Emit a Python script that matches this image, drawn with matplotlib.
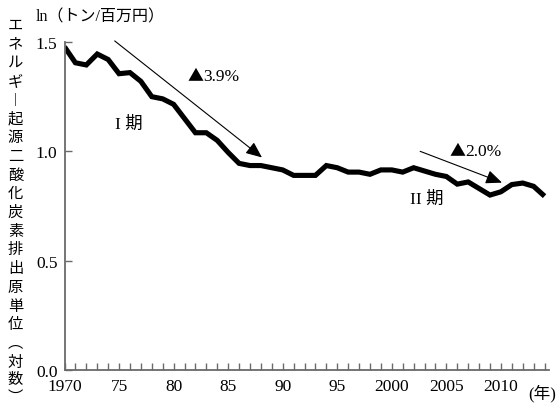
import matplotlib
matplotlib.use("Agg")
import matplotlib.pyplot as plt
import numpy as np

years = list(range(1970, 2015))
values = [1.478, 1.405, 1.395, 1.445, 1.42, 1.355, 1.36, 1.32, 1.25, 1.24,
          1.215, 1.15, 1.085, 1.085, 1.05, 0.995, 0.945, 0.935, 0.935, 0.925,
          0.915, 0.89, 0.89, 0.89, 0.935, 0.925, 0.905, 0.905, 0.895, 0.915,
          0.915, 0.905, 0.925, 0.91, 0.895, 0.885, 0.85, 0.86, 0.83, 0.80,
          0.815, 0.848, 0.855, 0.84, 0.795]
xtick_pos = [1970, 1975, 1980, 1985, 1990, 1995, 2000, 2005, 2010]
xtick_labels = ["1970", "75", "80", "85", "90", "95", "2000", "2005", "2010"]
ytick_pos = [0.0, 0.5, 1.0, 1.5]
ytick_labels = ["0.0", "0.5", "1.0", "1.5"]
ylabel_chars = list("エネルギ") + ["︱"] + list("起源二酸化炭素排出原単位") + ["︵", "対", "数", "︶"]

SERIF = ["Liberation Serif", "Noto Sans CJK JP", "DejaVu Sans"]
CJK = ["Noto Sans CJK JP", "DejaVu Sans"]
GRAY = "#6a6a6a"

W, H = 558, 410
fig = plt.figure(figsize=(W / 100, H / 100), dpi=100)
ax = fig.add_axes([64.5 / W, 1 - 371 / H, (549 - 64.5) / W, (371 - 43) / H])

ax.plot(years, values, color="black", lw=3.7, solid_joinstyle="miter", solid_capstyle="butt")

ax.set_xlim(1970, 1970 + (549 - 64.5) / 10.91)
ax.set_ylim(0, 1.5)
for s in ["top", "right"]:
    ax.spines[s].set_visible(False)
for s in ["left", "bottom"]:
    ax.spines[s].set_color(GRAY)
    ax.spines[s].set_linewidth(1.3)

ax.set_xticks(xtick_pos)
ax.set_xticklabels(xtick_labels, family=SERIF, fontsize=12.5)
ax.set_xticks(years, minor=True)
ax.set_yticks(ytick_pos)
ax.set_yticklabels(ytick_labels, family=SERIF, fontsize=12.5)
ax.tick_params(axis="both", which="both", direction="in", color=GRAY, width=1.0, length=5)
ax.tick_params(axis="x", which="major", pad=6)
ax.tick_params(axis="y", which="major", pad=5)

# arrows
ax.annotate("", xy=(1988.1, 0.972), xytext=(1974.6, 1.505),
            arrowprops=dict(arrowstyle="-|>,head_length=0.7,head_width=0.3",
                            color="black", lw=0.8, mutation_scale=14, shrinkA=0, shrinkB=0))
ax.annotate("", xy=(2010.1, 0.857), xytext=(2002.6, 1.0),
            arrowprops=dict(arrowstyle="-|>,head_length=0.7,head_width=0.3",
                            color="black", lw=0.8, mutation_scale=14, shrinkA=0, shrinkB=0))

# rate labels: triangle from CJK font, number in serif
ax.text(1981.3, 1.344, "▲", family=CJK, fontsize=11.5, ha="left", va="center")
ax.text(1982.7, 1.344, "3.9%", family=SERIF, fontsize=12.5, ha="left", va="center")
ax.text(2005.3, 1.003, "▲", family=CJK, fontsize=11.5, ha="left", va="center")
ax.text(2006.7, 1.003, "2.0%", family=SERIF, fontsize=12.5, ha="left", va="center")
ax.text(1974.6, 1.125, "I 期", family=SERIF, fontsize=12.5, ha="left", va="center")
ax.text(2001.7, 0.782, "II 期", family=SERIF, fontsize=12.5, ha="left", va="center")

fig.text(36 / W, 1 - 17 / H, "ln（トン/百万円）", family=SERIF, fontsize=11.5, ha="left", va="center")
fig.text(528 / W, 1 - 394 / H, "(年)", family=SERIF, fontsize=12, ha="left", va="center")

# vertical y label
ys = []
for i in range(17):
    ys.append(25 + i * 18.75)
ys += [343, 362.5, 379.5, 397]
for ch, yy in zip(ylabel_chars, ys):
    fig.text(15.5 / W, 1 - yy / H, ch, family=CJK, fontsize=11, ha="center", va="center")

fig.savefig("out.png", dpi=100)
